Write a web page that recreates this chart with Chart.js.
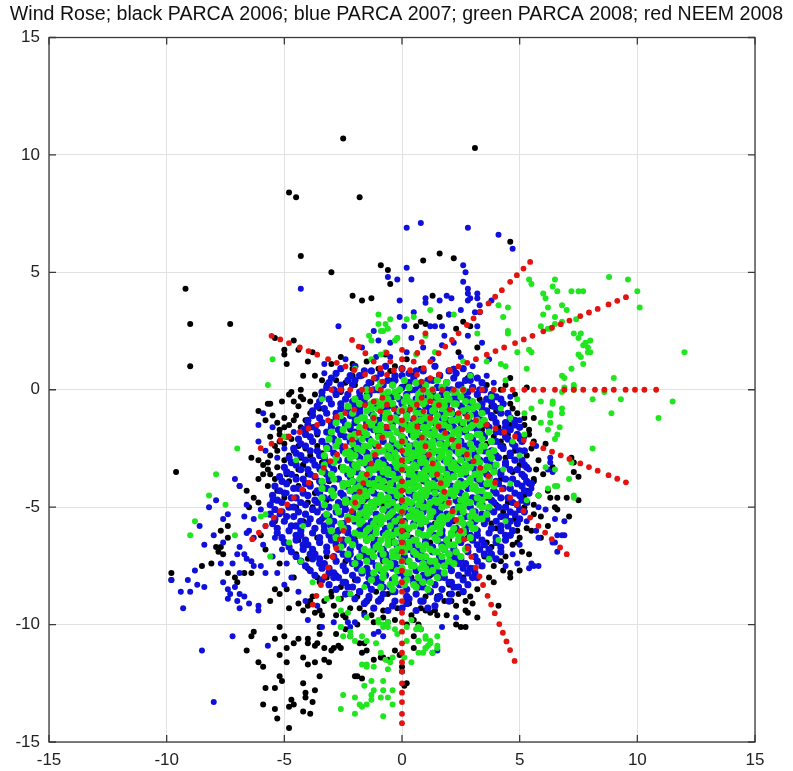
<!DOCTYPE html>
<html>
<head>
<meta charset="utf-8">
<title>Wind Rose</title>
<script src="https://cdn.jsdelivr.net/npm/chart.js@4/dist/chart.umd.min.js"></script>
<style>
  html, body { margin: 0; padding: 0; background: #fff; }
  canvas { display: block; }
</style>
</head>
<body>
<canvas id="rose" width="793" height="771"></canvas>
<script>
// axis ticks (m/s, u and v wind components)
const tickValues = [-15, -10, -5, 0, 5, 10, 15];

// PARCA 2006 (black): x,y pairs
const blackOuter = [
  -2.5,10.7, 3.1,10.3, -4.8,8.4, -4.5,8.2, -1.8,8.2, 4.6,6.3, -4.3,5.7, -3.0,5.0, -0.9,5.3, -0.6,5.1,
  -0.5,4.5, 1.6,5.8, 0.9,5.5, 2.2,5.6, -9.2,4.3, -9.0,2.8, -7.3,2.8, -9.0,1.0, -2.1,4.0, -1.7,3.8,
  -1.3,3.9, 1.3,4.0, 1.6,3.1, 0.6,2.7, 0.8,2.9, 2.6,2.9, 2.9,2.7, 2.3,2.6, 3.2,1.8, 2.4,1.6,
  4.6,0.5, 5.3,0.1, 1.0,2.8, 2.0,3.2, -5.4,2.2, -5.0,1.7, -5.0,1.5, -4.6,2.1, -4.4,1.7, -4.9,1.1,
  -4.0,1.2, -4.2,0.6, -3.7,0.6, -3.0,1.1, -3.0,0.5, -2.8,0.4, -2.1,1.1, -2.1,0.9, -2.1,0.6, -0.5,0.8,
  -4.8,-0.2, -4.3,-0.3, -3.4,0.4, -1.7,0.6, -1.0,0.9, -0.3,1.0, 0.5,0.6, 0.8,0.9, -2.6,1.4, -1.5,1.2,
  -0.7,1.5, 0.2,1.3, 1.4,1.0, 2.2,0.9, -3.8,1.6, -2.4,0.3, -1.3,0.3, 1.5,0.4, 2.4,0.2,
  -6.1,-0.9, -5.7,-0.6, -5.6,-0.6, -4.7,-0.1, -4.3,0.0, -4.2,-0.4, -4.4,-0.7, -3.9,-0.5, -4.6,-1.3, -5.0,-1.6,
  -5.2,-1.9, -4.7,-2.1, -4.4,-2.4, -4.1,-1.8, -5.4,-2.4, -5.6,-2.8, -5.7,-3.1, -5.3,-3.3, -5.0,-3.0, -4.9,-3.6,
  -5.9,-3.6, -6.1,-3.8, -5.7,-4.1, -5.3,-4.3, -4.7,-4.6, -4.4,-4.1, -3.7,-4.4, -3.5,-3.4, -5.2,-1.7, -5.2,-2.2,
  -6.4,-2.9, -6.1,-3.0, -5.9,-3.2, -5.7,-3.4, -5.6,-3.6, -5.4,-3.8, -6.9,-4.1, -6.6,-4.3, -6.3,-4.6, -6.1,-4.8,
  -6.5,-5.0, -7.4,-5.8, -7.4,-6.3, -7.7,-6.0, -7.9,-6.7, -7.8,-6.9, -7.7,-6.7, -7.6,-7.0, -8.5,-7.5, -8.1,-7.4,
  -9.8,-7.8, -9.8,-8.1, -9.6,-3.5, -7.4,-7.8, -7.1,-8.0, -7.0,-8.2, -6.7,-7.8, -6.4,-7.8, -5.6,-9.0, -5.4,-8.5,
  -5.2,-8.7, -4.9,-8.5, -4.8,-9.3, -4.4,-9.1, -4.2,-9.4, -4.0,-9.2, -3.7,-9.5, -3.5,-9.4, -5.2,-10.1, -5.0,-10.5,
  -5.4,-10.6, -4.9,-11.0, -4.6,-10.8, -4.4,-10.6, -4.0,-10.8, -3.7,-10.9, -6.4,-10.5, -6.3,-10.3, -6.6,-11.1, -6.1,-11.6,
  -5.9,-11.8, -5.2,-11.3, -4.9,-11.6, -5.2,-12.2, -5.1,-12.4, -4.2,-11.4, -4.0,-11.7, -3.7,-11.6, -3.3,-11.5, -3.1,-11.6,
  -2.9,-11.0, -2.7,-10.9, -5.8,-12.7, -5.4,-12.7, -4.7,-13.2, -4.8,-13.5, -4.6,-13.4, -4.2,-13.7, -3.9,-13.8, -4.1,-12.9,
  -3.8,-13.3, -5.9,-13.4, -5.4,-13.6, -5.3,-14.0, -4.8,-14.4, -1.9,-12.2, -1.7,-12.3, -1.2,-11.5, -0.9,-11.4, -0.6,-11.5,
  -3.5,-10.1, -3.5,-10.4, -4.0,-10.6, -3.6,-10.8, -3.3,-11.0, -3.0,-11.1, -2.6,-11.0, -2.8,-10.4, -3.5,-12.2, -4.2,-12.5,
  -3.7,-12.8, -4.1,-13.1, -1.8,-10.8, -1.6,-10.8, -1.5,-11.1, -1.7,-11.2, -2.2,-10.5, -0.8,-11.4, -2.0,-12.2, -0.3,-11.1,
  -0.1,-11.3, 0.0,-11.8, 0.0,-12.0, 0.1,-12.6, 0.2,-12.5, 0.2,-10.0, 0.5,-9.8, 0.7,-10.0, 0.8,-10.2, 1.9,-9.6,
  2.3,-10.0, 2.7,-10.1, 2.8,-9.5, 3.2,-9.7, 0.7,-10.1, 0.5,-10.5, 0.5,-11.0, 1.0,-9.4, 1.2,-9.5, 3.2,-8.5,
  2.9,-8.8, 2.7,-9.0, 2.7,-9.4, 2.5,-10.1, 2.4,-8.4, 2.1,-9.0, 2.3,-9.2, 4.1,-9.2,
  4.6,-0.6, 4.7,-0.8, 5.6,-1.2, 4.4,-1.4, 4.6,-1.5, 4.2,-2.2, 4.3,-2.4, 5.4,-1.7, 5.4,-1.9, 6.1,-2.3,
  7.2,-2.9, 7.3,-3.1, 7.3,-3.5, 7.5,-3.7, 5.6,-3.8, 5.6,-3.9, 5.3,-4.3, 5.2,-4.5, 6.2,-4.3, 6.3,-4.6,
  6.6,-4.6, 7.0,-4.6, 7.5,-4.7, 6.5,-5.0, 6.6,-5.1, 7.1,-5.4, 6.2,-5.8, 5.9,-6.3, 4.9,-6.0, 5.0,-6.3,
  4.9,-6.5, 5.4,-7.0, 4.2,-7.3, 3.9,-7.5, 4.3,-7.7, 4.6,-7.8, 5.0,-7.7, 4.6,-8.0, 3.4,-7.5, 3.7,-8.0,
  3.9,-8.2, 4.0,-0.9, 3.8,-1.2, 4.1,-1.6, 3.9,-2.0, 4.5,-1.9, 4.8,-2.6, 4.4,-2.9, 5.0,-3.2, 4.7,-3.5,
  4.2,-3.8, 4.9,-4.0, 4.5,-4.8, 4.3,-5.2, 4.8,-5.5, 4.0,-5.9, 4.4,-6.4, 3.8,-6.7, 4.2,-6.9, 3.5,-7.1,
  3.0,-7.6, 2.6,-8.0, 2.0,-8.3, 1.5,-8.8, 3.6,-4.6, 5.5,-2.5, 5.8,-3.0, 6.4,-3.3, 6.0,-3.6, 5.2,-5.0,
  5.6,-5.3, 5.5,-6.0, 3.3,-0.4, 3.6,0.2, 2.8,0.5, 4.2,0.0,
  -4.5,-7.0, -4.0,-7.6, -3.5,-8.2, -3.0,-8.6, -2.6,-8.9, -2.2,-9.3, -3.8,-8.8, -4.6,-8.0, -5.2,-7.4, -5.8,-6.8,
  -6.0,-6.2, -5.4,-5.6, -3.3,-9.0, -2.8,-9.6, -1.2,-9.9, -1.9,-10.0, -2.4,-10.2, -0.2,-9.3, 1.2,-8.6, 1.8,-9.0,
  0.4,-9.6
];
const blackRing = [
  -5.8,-1.3, -5.5,-1.1, -5.3,-1.4, -5.0,-1.2, -4.8,-1.5, -4.5,-1.1, -4.3,-1.6, -4.1,-1.3, -3.9,-1.0, -5.6,-2.0,
  -5.3,-2.6, -5.0,-2.3, -4.8,-2.8, -4.6,-2.6, -4.3,-2.9, -4.1,-2.5, -3.9,-2.8, -4.9,-2.0, -4.6,-3.1, -4.4,-3.4,
  -4.2,-3.2, -4.0,-3.6, -4.8,-3.9, -4.5,-3.7, -4.2,-4.3, -5.0,-4.6, -4.5,-5.0, -3.8,-5.0, -5.1,-0.5, -4.6,-0.5,
  -3.7,-0.2, -3.2,0.2, -2.6,-0.1, -2.0,0.2, -1.5,-0.2, -0.9,0.3, -0.4,0.4, 0.2,0.2, 0.9,0.1, -3.6,-1.9,
  -3.4,-2.7, 4.9,-1.0, 5.2,-1.5, 5.0,-2.1, 5.3,-2.8, 5.6,-2.2, 5.7,-3.4, 5.2,-3.7, 5.4,-4.0, 5.8,-4.5,
  5.6,-4.9, 5.9,-5.4, 5.3,-5.9, 5.1,-6.9, 4.7,-6.6, 4.4,-7.1, 5.2,-1.2, 4.8,-0.2, 4.4,0.2, -3.9,-9.0,
  -3.4,-9.6, -2.9,-9.2, -2.4,-9.7, -1.8,-9.3, -1.3,-9.6, -0.8,-9.4, -0.3,-9.8, 0.3,-9.1, 0.8,-9.3, 1.4,-9.4,
  2.0,-8.7, 2.6,-8.6, 3.0,-9.1, -3.2,-8.0, -2.6,-8.4, -1.9,-8.8, -1.1,-8.6
];
const blackCore = [
  -3.5,-0.8, -2.6,-0.6, -1.8,-0.9, -1.0,-0.7, -0.2,-1.0, 0.6,-0.7, 1.4,-0.9, 2.2,-0.6, 3.0,-0.8, 3.8,-0.7,
  -3.8,-1.6, -3.0,-1.5, -2.2,-1.7, -1.4,-1.5, -0.6,-1.7, 0.2,-1.5, 1.0,-1.7, 1.8,-1.6, 2.6,-1.5, 3.4,-1.7,
  -3.6,-2.4, -2.8,-2.3, -2.0,-2.5, -1.2,-2.3, -0.4,-2.5, 0.4,-2.4, 1.2,-2.3, 2.0,-2.5, 2.8,-2.4, 3.6,-2.3,
  -4.2,-3.2, -3.4,-3.1, -2.6,-3.3, -1.8,-3.1, -1.0,-3.3, -0.2,-3.2, 0.6,-3.1, 1.4,-3.3, 2.2,-3.2, 3.0,-3.1, 3.8,-3.3,
  -3.9,-4.0, -3.1,-3.9, -2.3,-4.1, -1.5,-3.9, -0.7,-4.1, 0.1,-4.0, 0.9,-3.9, 1.7,-4.1, 2.5,-4.0, 3.3,-3.9,
  -4.0,-4.8, -3.2,-4.7, -2.4,-4.9, -1.6,-4.7, -0.8,-4.9, 0.0,-4.8, 0.8,-4.7, 1.6,-4.9, 2.4,-4.8, 3.2,-4.7, 4.0,-4.9,
  -4.2,-5.6, -3.4,-5.5, -2.6,-5.7, -1.8,-5.5, -1.0,-5.7, -0.2,-5.6, 0.6,-5.5, 1.4,-5.7, 2.2,-5.6, 3.0,-5.5, 3.8,-5.7,
  -4.4,-6.4, -3.6,-6.3, -2.8,-6.5, -2.0,-6.3, -1.2,-6.5, -0.4,-6.4, 0.4,-6.3, 1.2,-6.5, 2.0,-6.4, 2.8,-6.3, 3.6,-6.5,
  -4.0,-7.2, -3.2,-7.1, -2.4,-7.3, -1.6,-7.1, -0.8,-7.3, 0.0,-7.2, 0.8,-7.1, 1.6,-7.3, 2.4,-7.2,
  -3.6,-8.0, -2.8,-7.9, -2.0,-8.1, -1.2,-7.9, -0.4,-8.1, 0.4,-8.0, 1.2,-7.9,
  -3.0,-8.8, -2.2,-8.7, -1.4,-8.9, -0.6,-8.7, 0.2,-8.9, 1.0,-8.8, 2.4,-8.7, -2.5,-9.6, -1.6,-9.5, -0.8,-9.7, 1.5,-9.6
];

// PARCA 2007 (blue)
const blueOuter = [
  0.2,6.9, 0.8,7.1, 2.8,6.9, 4.1,6.6, 4.7,6.0, 0.2,5.2, -0.6,4.8, -0.2,4.7, 0.4,4.7, -4.3,4.3,
  2.6,5.3, 2.7,5.0, 2.6,4.6, 2.8,4.3, 2.8,4.1, 3.2,4.1, 3.2,3.9, 3.3,3.6, 3.8,3.8, 2.8,3.8,
  3.1,3.3, 2.9,3.9, 1.0,3.9, 1.0,3.7, 1.6,3.8, 1.9,4.0, 2.1,3.9, 2.0,3.2, 0.5,3.3, 0.1,2.7,
  1.2,2.7, 1.4,2.7, 1.7,2.7, 3.3,3.3, 3.2,2.7, 2.8,2.3, 3.7,1.3, 3.6,0.6, -0.1,3.8, -2.7,2.7,
  -1.2,2.5, -1.0,2.1, -1.1,1.4, -0.5,1.4, -3.3,1.1, -3.3,0.7, 0.4,2.2, 0.9,1.8, 1.7,1.9, 2.2,2.0,
  2.5,1.4, 3.0,1.0, 1.3,1.3, 0.2,1.6, -0.5,2.0, -1.7,1.8, -2.4,1.3, -0.1,3.1, 2.5,3.4, 1.8,2.3,
  3.4,2.0, 2.2,0.9,
  -6.1,-1.5, -6.1,-2.2, -8.5,-11.1, -8.0,-13.3, -7.2,-10.5, -5.7,-10.9, -9.8,-8.1, -9.4,-8.6, -9.1,-8.1, -9.0,-8.6,
  -9.3,-9.3, -8.8,-7.7, -8.7,-8.3, -8.4,-8.4, -7.6,-8.2, -7.4,-8.5, -7.3,-8.7, -7.4,-8.9, -7.1,-8.4, -7.0,-9.0,
  -6.9,-8.7, -6.7,-8.8, -6.5,-9.1, -6.1,-9.2, -6.1,-9.4, -6.9,-9.3, -7.7,-7.4, -7.2,-7.4, -6.9,-7.8, -6.6,-7.2,
  -6.4,-7.3, -6.3,-7.5, -6.0,-7.5, -5.8,-7.8, -6.3,-6.3, -6.6,-6.1, -6.9,-6.7, -6.7,-7.0, -7.0,-7.0, -7.6,-5.5,
  -7.4,-5.3, -7.1,-3.8, -6.9,-4.1, -6.6,-4.9, -6.7,-5.4, -6.3,-5.5, -6.5,-6.0, -5.9,-1.0, -5.5,-1.6, -5.8,-2.6,
  -5.3,-2.9, -5.0,-2.5, -4.6,-1.8, -4.9,-4.4, -5.5,-4.7, -6.0,-5.1, -5.2,-5.3, -5.8,-5.8, -5.4,-6.3, -5.9,-6.6,
  -5.1,-6.8, -5.5,-7.1, -4.9,-7.4, -5.3,-7.8, -4.7,-8.0, -5.0,-8.3, -4.4,-8.6, -4.1,-9.0, -3.6,-9.2, -2.3,-9.9,
  -1.6,-9.6, -1.0,-10.3, -0.6,-9.9, -2.9,-9.9, -3.4,-10.1, -7.9,-4.7, -8.2,-5.0, -8.0,-6.2, -8.4,-6.6, -7.6,-6.5,
  -8.6,-5.8, -4.0,-9.8, -2.2,-10.1, -2.0,-9.9, -1.2,-10.4, -0.8,-10.5, 1.5,-11.1, 1.3,-11.2, 2.3,-9.7, 1.7,-10.1,
  6.5,-5.5, 6.9,-5.6, 6.6,-6.2, 6.5,-6.5, 6.8,-6.2, 5.8,-7.5, 5.6,-7.5, 5.4,-7.6, 4.9,-7.4, 5.7,-2.4,
  6.3,-3.1, 6.2,-3.4, 5.8,-5.0, 6.1,-5.1, 6.3,-2.9, 6.4,-3.5, 6.9,-6.2, 6.4,-6.5, 6.6,-6.9, 5.5,-7.4,
  5.8,-6.3, 5.7,-6.0, 5.2,-2.0, 5.4,-3.4, 5.5,-4.2, 5.3,-5.6, 5.0,-6.6, 4.7,-7.0, 4.4,-7.5, 5.0,-1.3,
  4.6,-0.3, 3.9,0.3
];
const blueCore = [
  -2.6,0.9, -2.0,1.0, -1.3,0.8, -0.7,1.0, 0.0,0.9, 0.6,0.8, 1.4,1.0, 2.0,0.8, 2.6,0.9,
  -3.0,0.5, -2.3,0.4, -1.8,0.6, -1.1,0.5, -0.6,0.4, 0.0,0.6, 0.5,0.5, 1.1,0.4, 1.6,0.6, 2.2,0.5, 2.7,0.4, 3.2,0.5,
  -3.2,0.1, -2.6,0.0, -2.1,0.2, -1.5,0.1, -1.0,0.0, -0.4,0.2, 0.0,0.1, 0.6,0.0, 1.0,0.2, 1.5,0.1, 2.1,0.0, 2.5,0.2, 3.0,0.1, 3.5,0.0,
  -3.4,-0.3, -2.8,-0.2, -2.4,-0.4, -1.8,-0.3, -1.4,-0.2, -0.8,-0.4, -0.4,-0.3, 0.2,-0.2, 0.6,-0.4, 1.1,-0.3, 1.7,-0.2, 2.1,-0.4, 2.6,-0.3, 3.2,-0.2, 3.6,-0.4, 4.0,-0.3,
  -3.6,-0.7, -3.0,-0.6, -2.6,-0.8, -2.0,-0.7, -1.6,-0.6, -1.0,-0.8, -0.6,-0.7, 0.0,-0.6, 0.4,-0.8, 1.0,-0.7, 1.4,-0.6, 1.9,-0.8, 2.5,-0.7, 2.9,-0.6, 3.4,-0.8, 3.9,-0.7, 4.3,-0.6,
  -3.8,-1.1, -3.2,-1.0, -2.8,-1.2, -2.2,-1.1, -1.8,-1.0, -1.2,-1.2, -0.8,-1.1, -0.2,-1.0, 0.2,-1.2, 0.8,-1.1, 1.2,-1.0, 1.7,-1.2, 2.3,-1.1, 2.7,-1.0, 3.2,-1.2, 3.8,-1.1, 4.2,-1.0, 4.6,-1.2,
  -4.0,-1.5, -3.4,-1.4, -3.0,-1.6, -2.4,-1.5, -2.0,-1.4, -1.4,-1.6, -1.0,-1.5, -0.4,-1.4, 0.0,-1.6, 0.6,-1.5, 1.0,-1.4, 1.5,-1.6, 2.1,-1.5, 2.5,-1.4, 3.0,-1.6, 3.6,-1.5, 4.0,-1.4, 4.4,-1.6, 4.8,-1.5,
  -4.1,-1.9, -3.6,-1.8, -3.0,-2.0, -2.6,-1.9, -2.0,-1.8, -1.6,-2.0, -1.0,-1.9, -0.6,-1.8, 0.0,-2.0, 0.4,-1.9, 1.0,-1.8, 1.4,-2.0, 1.9,-1.9, 2.5,-1.8, 2.9,-2.0, 3.4,-1.9, 4.0,-1.8, 4.4,-2.0, 4.9,-1.9,
  -4.3,-2.3, -3.8,-2.2, -3.2,-2.4, -2.8,-2.3, -2.2,-2.2, -1.8,-2.4, -1.2,-2.3, -0.8,-2.2, -0.2,-2.4, 0.2,-2.3, 0.8,-2.2, 1.2,-2.4, 1.7,-2.3, 2.3,-2.2, 2.7,-2.4, 3.2,-2.3, 3.8,-2.2, 4.2,-2.4, 4.7,-2.3, 5.1,-2.2,
  -4.5,-2.7, -3.9,-2.6, -3.5,-2.8, -2.9,-2.7, -2.5,-2.6, -1.9,-2.8, -1.5,-2.7, -0.9,-2.6, -0.5,-2.8, 0.1,-2.7, 0.5,-2.6, 1.0,-2.8, 1.6,-2.7, 2.0,-2.6, 2.5,-2.8, 3.1,-2.7, 3.5,-2.6, 4.0,-2.8, 4.6,-2.7, 5.0,-2.6,
  -4.7,-3.1, -4.1,-3.0, -3.7,-3.2, -3.1,-3.1, -2.7,-3.0, -2.1,-3.2, -1.7,-3.1, -1.1,-3.0, -0.7,-3.2, -0.1,-3.1, 0.3,-3.0, 0.8,-3.2, 1.4,-3.1, 1.8,-3.0, 2.3,-3.2, 2.9,-3.1, 3.3,-3.0, 3.8,-3.2, 4.4,-3.1, 4.8,-3.0, 5.2,-3.2,
  -4.9,-3.5, -4.3,-3.4, -3.9,-3.6, -3.3,-3.5, -2.9,-3.4, -2.3,-3.6, -1.9,-3.5, -1.3,-3.4, -0.9,-3.6, -0.3,-3.5, 0.1,-3.4, 0.6,-3.6, 1.2,-3.5, 1.6,-3.4, 2.1,-3.6, 2.7,-3.5, 3.1,-3.4, 3.6,-3.6, 4.2,-3.5, 4.6,-3.4, 5.1,-3.6,
  -5.1,-3.9, -4.5,-3.8, -4.1,-4.0, -3.5,-3.9, -3.1,-3.8, -2.5,-4.0, -2.1,-3.9, -1.5,-3.8, -1.1,-4.0, -0.5,-3.9, -0.1,-3.8, 0.4,-4.0, 1.0,-3.9, 1.4,-3.8, 1.9,-4.0, 2.5,-3.9, 2.9,-3.8, 3.4,-4.0, 4.0,-3.9, 4.4,-3.8, 4.9,-4.0, 5.3,-3.9,
  -5.2,-4.3, -4.6,-4.2, -4.2,-4.4, -3.6,-4.3, -3.2,-4.2, -2.6,-4.4, -2.2,-4.3, -1.6,-4.2, -1.2,-4.4, -0.6,-4.3, -0.2,-4.2, 0.3,-4.4, 0.9,-4.3, 1.3,-4.2, 1.8,-4.4, 2.4,-4.3, 2.8,-4.2, 3.3,-4.4, 3.9,-4.3, 4.3,-4.2, 4.8,-4.4, 5.2,-4.3,
  -5.3,-4.7, -4.7,-4.6, -4.3,-4.8, -3.7,-4.7, -3.3,-4.6, -2.7,-4.8, -2.3,-4.7, -1.7,-4.6, -1.3,-4.8, -0.7,-4.7, -0.3,-4.6, 0.2,-4.8, 0.8,-4.7, 1.2,-4.6, 1.7,-4.8, 2.3,-4.7, 2.7,-4.6, 3.2,-4.8, 3.8,-4.7, 4.2,-4.6, 4.7,-4.8, 5.1,-4.7,
  -5.4,-5.1, -4.8,-5.0, -4.4,-5.2, -3.8,-5.1, -3.4,-5.0, -2.8,-5.2, -2.4,-5.1, -1.8,-5.0, -1.4,-5.2, -0.8,-5.1, -0.4,-5.0, 0.1,-5.2, 0.7,-5.1, 1.1,-5.0, 1.6,-5.2, 2.2,-5.1, 2.6,-5.0, 3.1,-5.2, 3.7,-5.1, 4.1,-5.0, 4.6,-5.2, 5.0,-5.1,
  -5.4,-5.5, -4.9,-5.4, -4.3,-5.6, -3.9,-5.5, -3.3,-5.4, -2.9,-5.6, -2.3,-5.5, -1.9,-5.4, -1.3,-5.6, -0.9,-5.5, -0.3,-5.4, 0.1,-5.6, 0.6,-5.5, 1.2,-5.4, 1.6,-5.6, 2.1,-5.5, 2.7,-5.4, 3.1,-5.6, 3.6,-5.5, 4.2,-5.4, 4.6,-5.6, 5.0,-5.5,
  -5.3,-5.9, -4.7,-5.8, -4.3,-6.0, -3.7,-5.9, -3.3,-5.8, -2.7,-6.0, -2.3,-5.9, -1.7,-5.8, -1.3,-6.0, -0.7,-5.9, -0.3,-5.8, 0.2,-6.0, 0.8,-5.9, 1.2,-5.8, 1.7,-6.0, 2.3,-5.9, 2.7,-5.8, 3.2,-6.0, 3.8,-5.9, 4.2,-5.8, 4.7,-6.0,
  -5.1,-6.3, -4.5,-6.2, -4.1,-6.4, -3.5,-6.3, -3.1,-6.2, -2.5,-6.4, -2.1,-6.3, -1.5,-6.2, -1.1,-6.4, -0.5,-6.3, -0.1,-6.2, 0.4,-6.4, 1.0,-6.3, 1.4,-6.2, 1.9,-6.4, 2.5,-6.3, 2.9,-6.2, 3.4,-6.4, 4.0,-6.3, 4.4,-6.2,
  -4.8,-6.7, -4.2,-6.6, -3.8,-6.8, -3.2,-6.7, -2.8,-6.6, -2.2,-6.8, -1.8,-6.7, -1.2,-6.6, -0.8,-6.8, -0.2,-6.7, 0.2,-6.6, 0.7,-6.8, 1.3,-6.7, 1.7,-6.6, 2.2,-6.8, 2.8,-6.7, 3.2,-6.6, 3.7,-6.8, 4.2,-6.7,
  -4.5,-7.1, -3.9,-7.0, -3.5,-7.2, -2.9,-7.1, -2.5,-7.0, -1.9,-7.2, -1.5,-7.1, -0.9,-7.0, -0.5,-7.2, 0.1,-7.1, 0.5,-7.0, 1.0,-7.2, 1.6,-7.1, 2.0,-7.0, 2.5,-7.2, 3.1,-7.1, 3.5,-7.0, 4.0,-7.2,
  -4.1,-7.5, -3.5,-7.4, -3.1,-7.6, -2.5,-7.5, -2.1,-7.4, -1.5,-7.6, -1.1,-7.5, -0.5,-7.4, -0.1,-7.6, 0.5,-7.5, 0.9,-7.4, 1.4,-7.6, 2.0,-7.5, 2.4,-7.4, 2.9,-7.6, 3.4,-7.5,
  -3.7,-7.9, -3.1,-7.8, -2.7,-8.0, -2.1,-7.9, -1.7,-7.8, -1.1,-8.0, -0.7,-7.9, -0.1,-7.8, 0.3,-8.0, 0.9,-7.9, 1.3,-7.8, 1.8,-8.0, 2.4,-7.9, 2.8,-7.8, 3.2,-8.0,
  -3.1,-8.3, -2.5,-8.2, -2.1,-8.4, -1.5,-8.3, -1.1,-8.2, -0.5,-8.4, -0.1,-8.3, 0.5,-8.2, 0.9,-8.4, 1.4,-8.3, 2.0,-8.2, 2.4,-8.4, 2.8,-8.3,
  -2.4,-8.7, -1.8,-8.6, -1.4,-8.8, -0.8,-8.7, -0.4,-8.6, 0.2,-8.8, 0.6,-8.7, 1.2,-8.6, 1.6,-8.8, 2.1,-8.7,
  -1.6,-9.1, -1.0,-9.0, -0.4,-9.2, 0.2,-9.1, 0.8,-9.0, 1.4,-9.2
];
const blueFill = [
  -2.8,0.7, -2.2,0.6, -1.6,0.8, -0.9,0.7, -0.3,0.6, 0.3,0.7, 0.9,0.8, 1.6,0.6, 2.3,0.7, 2.9,0.6,
  -3.1,0.3, -2.6,0.2, -2.0,0.4, -1.4,0.3, -0.8,0.2, -0.3,0.4, 0.3,0.3, 0.8,0.2, 1.3,0.4, 1.9,0.3, 2.4,0.2, 2.9,0.4, 3.4,0.3,
  -3.4,-0.1, -2.9,0.0, -2.3,-0.2, -1.8,-0.1, -1.2,0.0, -0.7,-0.2, -0.2,-0.1, 0.4,0.0, 0.8,-0.2, 1.3,-0.1, 1.9,0.0, 2.3,-0.2, 2.8,-0.1, 3.3,0.0, 3.8,-0.2,
  -3.5,-0.5, -3.1,-0.4, -2.6,-0.6, -2.1,-0.5, -1.6,-0.4, -1.1,-0.6, -0.6,-0.5, -0.1,-0.4, 0.4,-0.6, 0.9,-0.5, 1.4,-0.4, 1.9,-0.6, 2.3,-0.5, 2.8,-0.4, 3.4,-0.6, 3.8,-0.5, 4.2,-0.4,
  -3.8,-0.9, -3.3,-0.8, -2.8,-1.0, -2.3,-0.9, -1.8,-0.8, -1.3,-1.0, -0.8,-0.9, -0.3,-0.8, 0.2,-1.0, 0.7,-0.9, 1.2,-0.8, 1.7,-1.0, 2.1,-0.9, 2.6,-0.8, 3.1,-1.0, 3.6,-0.9, 4.1,-0.8, 4.5,-1.0,
  -4.0,-1.3, -3.5,-1.2, -3.0,-1.4, -2.5,-1.3, -2.0,-1.2, -1.5,-1.4, -1.0,-1.3, -0.5,-1.2, 0.0,-1.4, 0.5,-1.3, 1.0,-1.2, 1.4,-1.4, 1.9,-1.3, 2.4,-1.2, 2.9,-1.4, 3.4,-1.3, 3.9,-1.2, 4.4,-1.4, 4.8,-1.3,
  -4.2,-1.7, -3.7,-1.6, -3.2,-1.8, -2.7,-1.7, -2.2,-1.6, -1.7,-1.8, -1.2,-1.7, -0.7,-1.6, -0.2,-1.8, 0.3,-1.7, 0.8,-1.6, 1.2,-1.8, 1.7,-1.7, 2.2,-1.6, 2.7,-1.8, 3.2,-1.7, 3.7,-1.6, 4.2,-1.8, 4.6,-1.7, 5.0,-1.6,
  -4.4,-2.1, -3.9,-2.0, -3.4,-2.2, -2.9,-2.1, -2.4,-2.0, -1.9,-2.2, -1.4,-2.1, -0.9,-2.0, -0.4,-2.2, 0.1,-2.1, 0.6,-2.0, 1.0,-2.2, 1.5,-2.1, 2.0,-2.0, 2.5,-2.2, 3.0,-2.1, 3.5,-2.0, 4.0,-2.2, 4.5,-2.1, 5.0,-2.0,
  -4.6,-2.5, -4.1,-2.4, -3.6,-2.6, -3.1,-2.5, -2.6,-2.4, -2.1,-2.6, -1.6,-2.5, -1.1,-2.4, -0.6,-2.6, -0.1,-2.5, 0.4,-2.4, 0.8,-2.6, 1.3,-2.5, 1.8,-2.4, 2.3,-2.6, 2.8,-2.5, 3.3,-2.4, 3.8,-2.6, 4.3,-2.5, 4.8,-2.4, 5.2,-2.6,
  -4.8,-2.9, -4.3,-2.8, -3.8,-3.0, -3.3,-2.9, -2.8,-2.8, -2.3,-3.0, -1.8,-2.9, -1.3,-2.8, -0.8,-3.0, -0.3,-2.9, 0.2,-2.8, 0.6,-3.0, 1.1,-2.9, 1.6,-2.8, 2.1,-3.0, 2.6,-2.9, 3.1,-2.8, 3.6,-3.0, 4.1,-2.9, 4.6,-2.8, 5.1,-3.0,
  -5.0,-3.3, -4.5,-3.2, -4.0,-3.4, -3.5,-3.3, -3.0,-3.2, -2.5,-3.4, -2.0,-3.3, -1.5,-3.2, -1.0,-3.4, -0.5,-3.3, 0.0,-3.2, 0.4,-3.4, 0.9,-3.3, 1.4,-3.2, 1.9,-3.4, 2.4,-3.3, 2.9,-3.2, 3.4,-3.4, 3.9,-3.3, 4.4,-3.2, 4.9,-3.4, 5.3,-3.3,
  -5.2,-3.7, -4.7,-3.6, -4.2,-3.8, -3.7,-3.7, -3.2,-3.6, -2.7,-3.8, -2.2,-3.7, -1.7,-3.6, -1.2,-3.8, -0.7,-3.7, -0.2,-3.6, 0.3,-3.8, 0.8,-3.7, 1.3,-3.6, 1.7,-3.8, 2.2,-3.7, 2.7,-3.6, 3.2,-3.8, 3.7,-3.7, 4.2,-3.6, 4.7,-3.8, 5.2,-3.7,
  -5.4,-4.1, -4.9,-4.0, -4.4,-4.2, -3.9,-4.1, -3.4,-4.0, -2.9,-4.2, -2.4,-4.1, -1.9,-4.0, -1.4,-4.2, -0.9,-4.1, -0.4,-4.0, 0.1,-4.2, 0.6,-4.1, 1.1,-4.0, 1.6,-4.2, 2.1,-4.1, 2.6,-4.0, 3.1,-4.2, 3.6,-4.1, 4.1,-4.0, 4.6,-4.2, 5.1,-4.1, 5.5,-4.0,
  -5.5,-4.5, -5.0,-4.4, -4.5,-4.6, -4.0,-4.5, -3.5,-4.4, -3.0,-4.6, -2.5,-4.5, -2.0,-4.4, -1.5,-4.6, -1.0,-4.5, -0.5,-4.4, 0.0,-4.6, 0.5,-4.5, 1.0,-4.4, 1.5,-4.6, 2.0,-4.5, 2.5,-4.4, 3.0,-4.6, 3.5,-4.5, 4.0,-4.4, 4.5,-4.6, 5.0,-4.5, 5.4,-4.4,
  -5.6,-4.9, -5.1,-4.8, -4.6,-5.0, -4.1,-4.9, -3.6,-4.8, -3.1,-5.0, -2.6,-4.9, -2.1,-4.8, -1.6,-5.0, -1.1,-4.9, -0.6,-4.8, -0.1,-5.0, 0.4,-4.9, 0.9,-4.8, 1.4,-5.0, 1.9,-4.9, 2.4,-4.8, 2.9,-5.0, 3.4,-4.9, 3.9,-4.8, 4.4,-5.0, 4.9,-4.9, 5.3,-4.8,
  -5.6,-5.3, -5.1,-5.2, -4.6,-5.4, -4.1,-5.3, -3.6,-5.2, -3.1,-5.4, -2.6,-5.3, -2.1,-5.2, -1.6,-5.4, -1.1,-5.3, -0.6,-5.2, -0.1,-5.4, 0.4,-5.3, 0.9,-5.2, 1.4,-5.4, 1.9,-5.3, 2.4,-5.2, 2.9,-5.4, 3.4,-5.3, 3.9,-5.2, 4.4,-5.4, 4.8,-5.3, 5.2,-5.2,
  -5.5,-5.7, -5.0,-5.6, -4.5,-5.8, -4.0,-5.7, -3.5,-5.6, -3.0,-5.8, -2.5,-5.7, -2.0,-5.6, -1.5,-5.8, -1.0,-5.7, -0.5,-5.6, 0.0,-5.8, 0.5,-5.7, 1.0,-5.6, 1.5,-5.8, 2.0,-5.7, 2.5,-5.6, 3.0,-5.8, 3.5,-5.7, 4.0,-5.6, 4.5,-5.8, 4.9,-5.7,
  -5.3,-6.1, -4.8,-6.0, -4.3,-6.2, -3.8,-6.1, -3.3,-6.0, -2.8,-6.2, -2.3,-6.1, -1.8,-6.0, -1.3,-6.2, -0.8,-6.1, -0.3,-6.0, 0.2,-6.2, 0.7,-6.1, 1.2,-6.0, 1.7,-6.2, 2.2,-6.1, 2.7,-6.0, 3.2,-6.2, 3.7,-6.1, 4.2,-6.0, 4.6,-6.2,
  -5.0,-6.5, -4.5,-6.4, -4.0,-6.6, -3.5,-6.5, -3.0,-6.4, -2.5,-6.6, -2.0,-6.5, -1.5,-6.4, -1.0,-6.6, -0.5,-6.5, 0.0,-6.4, 0.5,-6.6, 1.0,-6.5, 1.5,-6.4, 2.0,-6.6, 2.5,-6.5, 3.0,-6.4, 3.5,-6.6, 4.0,-6.5, 4.4,-6.4,
  -4.7,-6.9, -4.2,-6.8, -3.7,-7.0, -3.2,-6.9, -2.7,-6.8, -2.2,-7.0, -1.7,-6.9, -1.2,-6.8, -0.7,-7.0, -0.2,-6.9, 0.3,-6.8, 0.8,-7.0, 1.3,-6.9, 1.8,-6.8, 2.3,-7.0, 2.8,-6.9, 3.3,-6.8, 3.8,-7.0, 4.2,-6.9,
  -4.3,-7.3, -3.8,-7.2, -3.3,-7.4, -2.8,-7.3, -2.3,-7.2, -1.8,-7.4, -1.3,-7.3, -0.8,-7.2, -0.3,-7.4, 0.2,-7.3, 0.7,-7.2, 1.2,-7.4, 1.7,-7.3, 2.2,-7.2, 2.7,-7.4, 3.2,-7.3, 3.7,-7.2,
  -3.9,-7.7, -3.4,-7.6, -2.9,-7.8, -2.4,-7.7, -1.9,-7.6, -1.4,-7.8, -0.9,-7.7, -0.4,-7.6, 0.1,-7.8, 0.6,-7.7, 1.1,-7.6, 1.6,-7.8, 2.1,-7.7, 2.6,-7.6, 3.1,-7.8,
  -3.4,-8.1, -2.9,-8.0, -2.4,-8.2, -1.9,-8.1, -1.4,-8.0, -0.9,-8.2, -0.4,-8.1, 0.1,-8.0, 0.6,-8.2, 1.1,-8.1, 1.6,-8.0, 2.1,-8.2, 2.6,-8.1, 3.0,-8.0,
  -2.8,-8.5, -2.3,-8.4, -1.8,-8.6, -1.3,-8.5, -0.8,-8.4, -0.3,-8.6, 0.2,-8.5, 0.7,-8.4, 1.2,-8.6, 1.7,-8.5, 2.2,-8.4, 2.6,-8.6,
  -2.0,-8.9, -1.5,-9.0, -0.9,-8.9, -0.3,-9.0, 0.3,-8.9, 0.9,-9.0, 1.5,-8.9, 2.0,-9.0,
  -1.2,-9.3, -0.6,-9.4, 0.0,-9.3, 0.6,-9.4, 1.1,-9.3
];

// PARCA 2008 (green)
const greenOuter = [
  5.4,4.7, 5.5,4.5, 6.5,4.7, 6.4,4.4, 6.6,4.2, 8.8,4.8, 9.6,4.7, 10.0,4.2, 10.1,3.5, 7.2,4.2,
  7.5,4.2, 7.7,4.2, 6.0,4.1, 6.1,3.9, 6.2,3.5, 6.0,3.2, 6.8,3.6, 7.0,3.4, 6.5,3.1, 5.9,2.7,
  6.2,2.6, 6.3,2.6, 6.5,2.8, 6.8,2.9, 7.4,3.0, 7.3,2.4, 7.6,2.4, 7.5,2.2, 7.8,2.0, 8.0,2.1,
  7.9,1.8, 7.7,1.9, 8.0,1.6, 7.5,1.5, 7.6,1.4, 7.9,1.6, 7.7,1.1, 5.4,1.7, 5.5,1.6, 4.9,1.6,
  5.3,0.9, 6.8,0.6, 6.9,0.5, 7.2,0.9, 9.0,0.5, 7.3,0.1, 7.3,0.0, 4.5,3.5, 4.5,2.5, 4.1,3.6,
  4.3,3.1, 4.5,2.4, 4.2,1.1, 4.4,1.0, 3.2,2.4, 2.2,3.2, 1.2,3.4, 0.5,3.1, 0.2,3.0, -0.5,3.0,
  -0.7,2.8, -0.8,2.5, -0.2,2.2, -0.3,2.1, 1.0,2.3, 1.4,1.6, 2.6,1.2, 0.6,1.5, -1.3,1.3, -2.0,0.9,
  2.9,0.6, -1.0,3.2, -1.0,2.8, -0.6,2.6, -0.9,2.5, -1.4,2.3, -1.3,2.1, -0.9,1.5, -0.7,1.6, -0.2,2.2,
  -5.5,1.3, -5.7,0.2, -3.4,-0.4, 12.0,1.6, 11.5,-0.5, 10.9,-1.2, 8.9,-1.0, 9.3,-0.4, 8.1,-0.4, 8.6,-0.1,
  8.1,-2.5, 6.8,-0.8, 6.4,-0.5, 5.9,-0.5, 7.3,0.2, 6.9,0.1, 6.8,-0.1, 6.3,-1.0, 6.3,-1.4, 6.7,-1.6,
  6.6,-1.9, 6.5,-2.1, 5.9,-1.4, 6.2,-1.7, 6.5,-3.4, 6.1,-3.3, 7.3,-4.5, 7.1,-3.8, 6.5,-4.1, 6.2,-4.2,
  7.3,-4.6, 6.3,-1.1, 6.4,-0.6, 5.5,-0.8, 5.2,-1.9, 6.8,-1.0, 7.2,-3.1, 5.8,-4.5, 6.6,-4.1,
  3.8,-0.3, 4.2,-0.8, 4.6,-1.2, 3.6,1.2, 4.4,0.4, 4.9,-0.4, 5.2,-1.0, 4.7,-2.2, 5.0,-2.8, 4.3,-3.4,
  4.6,-4.0, 5.3,-4.7, 4.4,-5.6, 4.1,-6.4, 3.7,-7.2,
  -7.0,-2.5, -7.9,-3.6, -8.2,-4.5, -8.8,-5.6, -9.0,-6.2, -7.5,-4.9, -7.1,-6.2, -5.6,-7.1, -5.8,-5.3, -6.0,-5.4,
  -4.5,-3.0, -5.0,-2.0, -4.2,-5.8, -4.8,-6.5, -4.3,-7.3, -3.8,-8.2, -3.2,-8.9, -2.6,-9.4,
  -2.6,-13.6, -2.0,-13.8, -2.5,-13.0, -2.0,-13.1, -1.8,-13.4, -1.7,-13.5, -1.5,-13.4, -1.3,-13.2, -1.3,-13.0, -1.2,-12.8,
  -1.6,-12.6, -1.3,-12.4, -0.8,-12.4, -0.8,-12.8, -0.9,-13.1, -0.6,-13.1, -0.4,-13.4, -0.8,-13.9, -0.4,-12.8, -0.6,-11.9,
  -0.5,-11.6, -0.7,-11.5, -1.5,-11.7, -1.5,-11.8, -0.9,-11.2, -0.4,-11.4, 0.4,-11.6, 0.1,-11.4, 0.7,-11.2, 1.0,-11.0,
  1.1,-10.9, 1.3,-11.2, 1.5,-10.9, 1.5,-11.0, 1.2,-10.7, 1.0,-10.6, 0.6,-10.2, 0.8,-10.2, 1.0,-10.5, 0.7,-10.7,
  0.2,-10.1, -0.3,-10.2, -0.8,-10.0, -0.6,-10.1, -1.0,-9.9, -2.2,-10.5, -2.0,-10.7, -2.5,-10.5, -2.6,-10.1, -1.2,-11.8,
  -1.7,-11.7, -2.6,-10.1, -2.2,-10.3, -1.7,-10.5, -1.5,-10.7, -1.1,-10.8, -0.8,-10.1, -0.6,-9.9, -0.2,-10.4, 0.2,-10.7,
  0.7,-10.7, 1.0,-11.0, 1.2,-10.8, 1.5,-10.5, 0.9,-11.2, 0.7,-10.1, 0.4,-9.8, -1.0,-9.8, -1.5,-9.7, -2.3,-9.5,
  -2.7,-8.9, -2.2,-8.7, -1.6,-8.4
];
const greenCore = [
  -0.9,0.3, -0.4,0.2, 0.1,0.4, 0.6,0.3, 1.0,0.2, 1.5,0.4, 1.9,0.3,
  -1.5,0.0, -1.0,0.1, -0.6,-0.1, -0.1,0.0, 0.3,0.1, 0.8,-0.1, 1.3,0.0, 1.7,0.1, 2.2,-0.1, 2.6,0.0,
  -2.0,-0.4, -1.5,-0.3, -1.1,-0.5, -0.6,-0.4, -0.2,-0.3, 0.3,-0.5, 0.7,-0.4, 1.2,-0.3, 1.6,-0.5, 2.0,-0.4, 2.5,-0.3, 3.0,-0.5,
  -2.3,-0.7, -1.8,-0.6, -1.3,-0.8, -0.9,-0.7, -0.4,-0.6, 0.1,-0.8, 0.5,-0.7, 0.9,-0.6, 1.4,-0.8, 1.8,-0.7, 2.3,-0.6, 2.8,-0.8, 3.2,-0.7,
  -2.6,-1.1, -2.1,-1.0, -1.6,-1.2, -1.2,-1.1, -0.7,-1.0, -0.3,-1.2, 0.2,-1.1, 0.6,-1.0, 1.1,-1.2, 1.5,-1.1, 1.9,-1.0, 2.4,-1.2, 2.9,-1.1, 3.4,-1.0,
  -2.8,-1.4, -2.3,-1.5, -1.9,-1.3, -1.4,-1.4, -0.9,-1.5, -0.5,-1.3, 0.0,-1.4, 0.4,-1.5, 0.8,-1.3, 1.2,-1.4, 1.6,-1.5, 2.1,-1.3, 2.6,-1.4, 3.0,-1.5, 3.5,-1.3,
  -3.0,-1.8, -2.5,-1.7, -2.0,-1.9, -1.6,-1.8, -1.1,-1.7, -0.7,-1.9, -0.2,-1.8, 0.3,-1.7, 0.7,-1.9, 1.0,-1.8, 1.4,-1.7, 1.8,-1.9, 2.2,-1.8, 2.7,-1.7, 3.2,-1.9, 3.7,-1.8,
  -3.1,-2.1, -2.7,-2.2, -2.2,-2.0, -1.7,-2.1, -1.3,-2.2, -0.8,-2.0, -0.4,-2.1, 0.1,-2.2, 0.5,-2.0, 0.9,-2.1, 1.3,-2.2, 1.6,-2.0, 2.0,-2.1, 2.4,-2.2, 2.9,-2.0, 3.4,-2.1, 3.8,-2.2,
  -3.2,-2.5, -2.8,-2.4, -2.3,-2.6, -1.9,-2.5, -1.4,-2.4, -1.0,-2.6, -0.5,-2.5, -0.1,-2.4, 0.3,-2.6, 0.7,-2.5, 1.1,-2.4, 1.4,-2.6, 1.8,-2.5, 2.2,-2.4, 2.6,-2.6, 3.0,-2.5, 3.5,-2.4, 3.9,-2.6,
  -3.3,-2.8, -2.8,-2.9, -2.4,-2.7, -2.0,-2.8, -1.5,-2.9, -1.1,-2.7, -0.6,-2.8, -0.2,-2.9, 0.2,-2.7, 0.6,-2.8, 0.9,-2.9, 1.3,-2.7, 1.7,-2.8, 2.0,-2.9, 2.4,-2.7, 2.8,-2.8, 3.2,-2.9, 3.7,-2.7,
  -3.3,-3.2, -2.9,-3.1, -2.5,-3.3, -2.0,-3.2, -1.6,-3.1, -1.2,-3.3, -0.8,-3.2, -0.3,-3.1, 0.1,-3.3, 0.5,-3.2, 0.8,-3.1, 1.2,-3.3, 1.5,-3.2, 1.9,-3.1, 2.3,-3.3, 2.7,-3.2, 3.1,-3.1, 3.6,-3.3, 4.0,-3.2,
  -3.4,-3.5, -3.0,-3.6, -2.5,-3.4, -2.1,-3.5, -1.7,-3.6, -1.2,-3.4, -0.8,-3.5, -0.4,-3.6, 0.0,-3.4, 0.4,-3.5, 0.8,-3.6, 1.1,-3.4, 1.5,-3.5, 1.9,-3.6, 2.3,-3.4, 2.7,-3.5, 3.1,-3.6, 3.5,-3.4, 3.9,-3.5,
  -3.4,-3.9, -2.9,-3.8, -2.5,-4.0, -2.1,-3.9, -1.6,-3.8, -1.2,-4.0, -0.8,-3.9, -0.3,-3.8, 0.1,-4.0, 0.5,-3.9, 0.9,-3.8, 1.3,-4.0, 1.7,-3.9, 2.0,-3.8, 2.4,-4.0, 2.9,-3.9, 3.3,-3.8, 3.8,-4.0,
  -3.4,-4.2, -3.0,-4.3, -2.5,-4.1, -2.0,-4.2, -1.6,-4.3, -1.1,-4.1, -0.7,-4.2, -0.3,-4.3, 0.1,-4.1, 0.5,-4.2, 0.9,-4.3, 1.3,-4.1, 1.7,-4.2, 2.1,-4.3, 2.5,-4.1, 3.0,-4.2, 3.4,-4.3, 3.9,-4.1,
  -3.4,-4.6, -2.9,-4.5, -2.4,-4.7, -2.0,-4.6, -1.5,-4.5, -1.1,-4.7, -0.6,-4.6, -0.2,-4.5, 0.2,-4.7, 0.6,-4.6, 1.0,-4.5, 1.4,-4.7, 1.8,-4.6, 2.2,-4.5, 2.7,-4.7, 3.2,-4.6, 3.7,-4.5,
  -3.3,-4.9, -2.8,-5.0, -2.4,-4.8, -1.9,-4.9, -1.5,-5.0, -1.0,-4.8, -0.6,-4.9, -0.2,-5.0, 0.3,-4.8, 0.7,-4.9, 1.1,-5.0, 1.5,-4.8, 1.9,-4.9, 2.4,-5.0, 2.8,-4.8, 3.3,-4.9, 3.7,-5.0,
  -3.2,-5.3, -2.7,-5.2, -2.3,-5.4, -1.8,-5.3, -1.4,-5.2, -0.9,-5.4, -0.5,-5.3, 0.0,-5.2, 0.4,-5.4, 0.8,-5.3, 1.2,-5.2, 1.7,-5.4, 2.1,-5.3, 2.6,-5.2, 3.1,-5.4, 3.6,-5.3,
  -3.1,-5.6, -2.6,-5.7, -2.1,-5.5, -1.7,-5.6, -1.2,-5.7, -0.8,-5.5, -0.3,-5.6, 0.1,-5.7, 0.6,-5.5, 1.0,-5.6, 1.5,-5.7, 1.9,-5.5, 2.4,-5.6, 2.9,-5.7, 3.4,-5.5,
  -3.0,-6.0, -2.5,-5.9, -2.0,-6.1, -1.5,-6.0, -1.1,-5.9, -0.6,-6.1, -0.2,-6.0, 0.3,-5.9, 0.7,-6.1, 1.2,-6.0, 1.6,-5.9, 2.1,-6.1, 2.6,-6.0, 3.1,-5.9,
  -2.8,-6.3, -2.3,-6.4, -1.8,-6.2, -1.3,-6.3, -0.9,-6.4, -0.4,-6.2, 0.0,-6.3, 0.5,-6.4, 0.9,-6.2, 1.4,-6.3, 1.9,-6.4, 2.4,-6.2, 2.9,-6.3,
  -2.6,-6.7, -2.1,-6.6, -1.6,-6.8, -1.1,-6.7, -0.6,-6.6, -0.2,-6.8, 0.3,-6.7, 0.7,-6.6, 1.2,-6.8, 1.7,-6.7, 2.2,-6.6, 2.7,-6.8,
  -2.3,-7.0, -1.8,-7.1, -1.3,-6.9, -0.8,-7.0, -0.4,-7.1, 0.1,-6.9, 0.6,-7.0, 1.0,-7.1, 1.5,-6.9, 2.0,-7.0, 2.5,-7.1,
  -2.0,-7.4, -1.5,-7.3, -1.0,-7.5, -0.5,-7.4, 0.0,-7.3, 0.4,-7.5, 0.9,-7.4, 1.4,-7.3, 1.8,-7.5, 2.2,-7.4,
  -1.7,-7.7, -1.2,-7.8, -0.7,-7.6, -0.2,-7.7, 0.3,-7.8, 0.8,-7.6, 1.3,-7.7, 1.8,-7.8,
  -1.3,-8.1, -0.8,-8.0, -0.3,-8.2, 0.2,-8.1, 0.7,-8.0, 1.2,-8.2, 1.5,-8.0,
  -0.9,-8.4, -0.4,-8.5, 0.1,-8.3, 0.6,-8.4, 1.1,-8.5,
  0.4,-1.6, 0.9,-1.6, 1.5,-1.5, 2.0,-1.6, 0.6,-2.3, 1.1,-2.3, 1.6,-2.3, 2.3,-2.3, 0.2,-3.0, 0.8,-3.0,
  1.3,-3.0, 1.9,-3.0, 2.5,-3.0, 0.5,-3.7, 1.0,-3.7, 1.6,-3.7, 2.2,-3.7, 0.8,-4.4, 1.4,-4.4, 2.0,-4.4,
  -0.6,-4.6, -0.1,-5.1, -0.8,-5.1, 0.4,-5.1, -0.5,-5.8, 0.0,-5.8, 0.5,-5.8, -0.3,-6.5, 0.3,-6.5, 1.7,-2.7,
  2.1,-2.0, 1.2,-1.9, 0.7,-2.7, 1.4,-3.4, 0.3,-4.0, 1.1,-4.1, 2.6,-4.1, -1.1,-5.5, -0.4,-4.3, 0.9,-5.5
];
const greenFill = [
  -0.8,-0.2, -0.3,-0.1, 0.2,-0.3, 0.7,-0.2, 1.1,-0.1, 1.5,-0.3, 1.9,-0.2, 2.3,-0.1,
  -1.3,-0.6, -0.8,-0.5, -0.4,-0.6, 0.1,-0.5, 0.5,-0.6, 1.0,-0.5, 1.4,-0.6, 1.8,-0.5, 2.2,-0.6, 2.7,-0.5,
  -1.5,-0.9, -1.0,-0.8, -0.6,-1.0, -0.1,-0.9, 0.4,-0.8, 0.8,-1.0, 1.3,-0.9, 1.7,-0.8, 2.1,-1.0, 2.6,-0.9, 3.0,-0.8,
  -1.7,-1.2, -1.2,-1.3, -0.7,-1.2, -0.2,-1.3, 0.2,-1.2, 0.6,-1.3, 1.0,-1.2, 1.4,-1.3, 1.8,-1.2, 2.3,-1.3, 2.8,-1.2, 3.2,-1.3,
  -1.8,-1.6, -1.3,-1.5, -0.9,-1.7, -0.4,-1.6, 0.1,-1.5, 0.6,-1.7, 1.1,-1.6, 1.8,-1.5, 2.4,-1.7, 2.9,-1.6, 3.3,-1.5,
  -2.0,-2.0, -1.5,-1.9, -1.0,-2.0, -0.5,-1.9, 0.0,-2.0, 0.5,-1.9, 0.9,-2.0, 1.4,-1.9, 1.8,-2.0, 2.4,-1.9, 2.8,-2.0, 3.3,-1.9,
  -2.1,-2.3, -1.6,-2.4, -1.1,-2.3, -0.6,-2.4, -0.2,-2.3, 0.3,-2.4, 0.8,-2.3, 1.3,-2.4, 1.9,-2.3, 2.4,-2.4, 2.9,-2.3, 3.4,-2.4,
  -2.2,-2.7, -1.7,-2.6, -1.2,-2.7, -0.8,-2.6, -0.3,-2.7, 0.1,-2.6, 0.5,-2.7, 0.9,-2.6, 1.2,-2.7, 1.6,-2.6, 2.0,-2.7, 2.4,-2.6, 2.8,-2.7, 3.3,-2.6,
  -2.2,-2.9, -1.8,-3.1, -1.4,-2.9, -1.0,-3.1, -0.5,-2.9, -0.1,-3.1, 0.4,-2.9, 1.0,-3.1, 1.6,-2.9, 2.2,-3.1, 2.8,-2.9, 3.3,-3.1, 3.8,-2.9,
  -2.3,-3.4, -1.9,-3.3, -1.4,-3.4, -1.0,-3.3, -0.6,-3.4, -0.2,-3.3, 0.3,-3.4, 0.6,-3.3, 1.0,-3.4, 1.3,-3.3, 1.7,-3.4, 2.1,-3.3, 2.5,-3.4, 2.9,-3.3, 3.3,-3.4, 3.7,-3.3,
  -2.2,-3.6, -1.8,-3.8, -1.4,-3.6, -1.0,-3.8, -0.6,-3.6, -0.1,-3.8, 0.3,-3.6, 0.7,-3.8, 1.3,-3.6, 1.9,-3.8, 2.5,-3.6, 2.9,-3.8, 3.3,-3.6, 3.7,-3.8,
  -2.3,-4.0, -1.8,-4.1, -1.4,-4.0, -0.9,-4.1, -0.5,-4.0, -0.1,-4.1, 0.3,-4.0, 0.7,-4.1, 1.1,-4.0, 1.5,-4.1, 1.9,-4.0, 2.3,-4.1, 2.7,-4.0, 3.1,-4.1, 3.6,-4.0,
  -2.2,-4.3, -1.8,-4.5, -1.3,-4.3, -0.9,-4.5, -0.5,-4.3, -0.1,-4.5, 0.3,-4.3, 0.6,-4.5, 1.1,-4.3, 1.7,-4.5, 2.3,-4.3, 2.7,-4.5, 3.2,-4.3, 3.6,-4.5,
  -2.1,-4.8, -1.7,-4.7, -1.3,-4.8, -0.8,-4.7, -0.4,-4.8, 0.0,-4.7, 0.4,-4.8, 0.8,-4.7, 1.2,-4.8, 1.6,-4.7, 2.0,-4.8, 2.5,-4.7, 2.9,-4.8, 3.4,-4.7,
  -2.0,-5.0, -1.6,-5.2, -1.2,-5.0, -0.4,-5.2, 0.1,-5.0, 0.6,-5.2, 0.9,-5.0, 1.3,-5.2, 1.7,-5.0, 2.2,-5.2, 2.6,-5.0, 3.0,-5.2, 3.4,-5.0,
  -1.9,-5.5, -1.5,-5.4, -1.0,-5.5, -0.6,-5.4, -0.1,-5.5, 0.3,-5.4, 0.7,-5.5, 1.2,-5.4, 1.6,-5.5, 2.0,-5.4, 2.5,-5.5, 2.9,-5.4, 3.2,-5.5,
  -1.8,-5.7, -1.4,-5.9, -0.9,-5.7, 0.3,-5.9, 0.8,-5.7, 1.3,-5.9, 1.7,-5.7, 2.2,-5.9, 2.6,-5.7, 3.0,-5.9,
  -1.6,-6.2, -1.1,-6.1, -0.7,-6.2, -0.2,-6.1, 0.2,-6.2, 0.7,-6.1, 1.1,-6.2, 1.6,-6.1, 2.1,-6.2, 2.6,-6.1,
  -1.5,-6.4, -1.0,-6.6, -0.6,-6.4, 0.0,-6.6, 0.6,-6.4, 1.0,-6.6, 1.5,-6.4, 2.0,-6.6, 2.4,-6.4,
  -1.4,-6.9, -0.9,-6.8, -0.4,-6.9, 0.1,-6.8, 0.5,-6.9, 0.9,-6.8, 1.4,-6.9, 1.8,-6.8, 2.3,-6.9,
  -1.2,-7.1, -0.7,-7.3, -0.2,-7.1, 0.3,-7.3, 0.8,-7.1, 1.2,-7.3, 1.7,-7.1, 2.0,-7.3,
  -1.0,-7.6, -0.5,-7.5, 0.0,-7.6, 0.5,-7.5, 1.0,-7.6, 1.5,-7.5,
  -0.8,-7.8, -0.3,-8.0, 0.2,-7.8, 0.7,-8.0, 1.1,-7.8,
  -0.5,-8.3, 0.0,-8.2, 0.5,-8.3, 0.9,-8.2
];

// NEEM 2008 (red): 16 direction bins, speeds come in fixed steps
const redDirections = [0, 22.5, 45, 67.5, 90, 112.5, 135, 157.5, 180, 202.5, 225, 247.5, 270, 292.5, 315, 337.5];
const redLevelCounts = [25, 24, 18, 6, 4, 4, 7, 14, 7, 15, 21, 23, 33, 29, 23, 24];
const redSpeedLevels = [0.4, 0.9, 1.3, 1.7, 2.2, 2.6, 3.0, 3.4, 3.9, 4.3, 4.7, 5.2, 5.6, 6.0, 6.5, 6.9, 7.3,
  7.7, 8.2, 8.6, 9.0, 9.5, 9.9, 10.3, 10.8, 11.2, 11.6, 12.0, 12.5, 12.9, 13.3, 13.8, 14.2];
const redFirstLevel = 1;

const titleText = 'Wind Rose; black PARCA 2006; blue PARCA 2007; green PARCA 2008; red NEEM 2008';

function toPoints(flat) {
  const pts = [];
  for (let i = 0; i < flat.length; i += 2) pts.push({ x: flat[i], y: flat[i + 1] });
  return pts;
}

const redPoints = [];
redDirections.forEach((deg, i) => {
  const a = deg * Math.PI / 180;
  redSpeedLevels.slice(redFirstLevel, redLevelCounts[i]).forEach((r) => {
    redPoints.push({ x: r * Math.cos(a), y: r * Math.sin(a) });
  });
});

// box round the plot with inward ticks, like the original figure
const boxTicks = {
  id: 'boxTicks',
  afterDatasetsDraw(chart) {
    const { ctx, chartArea, scales } = chart;
    const { left, right, top, bottom } = chartArea;
    ctx.save();
    ctx.strokeStyle = '#3a3a3a';
    ctx.lineWidth = 1.3;
    ctx.strokeRect(left, top, right - left, bottom - top);
    ctx.beginPath();
    tickValues.forEach((v) => {
      const px = scales.x.getPixelForValue(v);
      const py = scales.y.getPixelForValue(v);
      ctx.moveTo(px, bottom); ctx.lineTo(px, bottom - 7);
      ctx.moveTo(px, top); ctx.lineTo(px, top + 7);
      ctx.moveTo(left, py); ctx.lineTo(left + 7, py);
      ctx.moveTo(right, py); ctx.lineTo(right - 7, py);
    });
    ctx.stroke();
    ctx.restore();
  }
};

// the crowded middle of each cloud is drawn with slightly fatter dots so it reads as solid
const dot = (label, data, color, order, radius) => ({
  label, data, order,
  backgroundColor: color,
  borderWidth: 0,
  pointRadius: radius,
  pointHoverRadius: radius
});

const colors = { green: '#1fe61f', red: '#e3140f', blue: '#1010dc', black: '#000000' };
const tickFont = { family: "'Liberation Sans', Arial, sans-serif", size: 17 };

new Chart(document.getElementById('rose'), {
  type: 'scatter',
  data: {
    datasets: [
      dot('NEEM 2008', redPoints, colors.red, 0, 2.9),
      dot('PARCA 2008', toPoints(greenOuter), colors.green, 1, 3.0),
      dot('PARCA 2008 (dense)', toPoints(greenCore.concat(greenFill)), colors.green, 2, 3.6),
      dot('PARCA 2007', toPoints(blueOuter), colors.blue, 3, 3.0),
      dot('PARCA 2007 (dense)', toPoints(blueCore.concat(blueFill)), colors.blue, 4, 3.6),
      dot('PARCA 2006', toPoints(blackOuter.concat(blackRing)), colors.black, 5, 3.0),
      dot('PARCA 2006 (dense)', toPoints(blackCore), colors.black, 6, 3.0)
    ]
  },
  options: {
    responsive: false,
    animation: false,
    events: [],
    plugins: {
      legend: { display: false },
      tooltip: { enabled: false },
      title: {
        display: true,
        text: titleText,
        color: '#111',
        font: { family: "'Liberation Sans', Arial, sans-serif", size: 19.6, weight: 'normal' },
        padding: { top: 3, bottom: 11 }
      }
    },
    scales: {
      x: {
        type: 'linear',
        min: -15, max: 15,
        ticks: { stepSize: 5, color: '#222', font: tickFont, padding: 8, maxRotation: 0 },
        grid: { color: '#e2e2e2', drawTicks: false },
        border: { display: false },
        afterFit(scale) { scale.height = 29; }
      },
      y: {
        type: 'linear',
        min: -15, max: 15,
        ticks: { stepSize: 5, color: '#222', font: tickFont, padding: 9 },
        grid: { color: '#e2e2e2', drawTicks: false },
        border: { display: false },
        afterFit(scale) { scale.width = 49; }
      },
      // empty right-hand axis keeps the margin on that side
      yRight: {
        type: 'linear',
        position: 'right',
        min: -15, max: 15,
        ticks: { display: false },
        grid: { display: false },
        border: { display: false },
        afterFit(scale) { scale.width = 38; }
      }
    }
  },
  plugins: [boxTicks]
});
</script>
</body>
</html>
